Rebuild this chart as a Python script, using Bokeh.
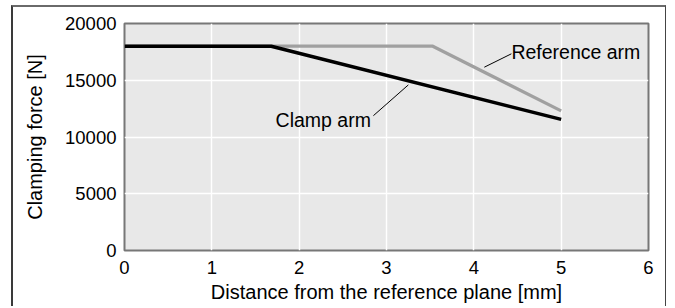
from bokeh.plotting import figure
from bokeh.embed import file_html
from bokeh.resources import INLINE
from bokeh.models import ColumnDataSource, FixedTicker
from bokeh.core.properties import value

# Data
clamp_x = [0, 1.68, 5]
clamp_force = [18000, 18000, 11550]
ref_x = [0, 3.53, 5]
ref_force = [18000, 18000, 12300]

x_ticks = [0, 1, 2, 3, 4, 5, 6]
y_ticks = [0, 5000, 10000, 15000, 20000]

label_names = ["Reference arm", "Clamp arm"]
label_x = [4.43, 1.73]
label_y = [17450, 11500]
leader_x0 = [4.12, 2.85]
leader_y0 = [16150, 11880]
leader_x1 = [4.43, 3.25]
leader_y1 = [17330, 14590]

FONT = "Liberation Sans"

p = figure(width=655, height=301, x_range=(0, 6), y_range=(0, 20000),
           output_backend="svg", toolbar_location=None,
           min_border_left=111, min_border_right=20,
           min_border_top=16, min_border_bottom=58,
           background_fill_color="#e8e8e8", border_fill_color="white",
           outline_line_color="#777777", outline_line_width=2)

p.styles = {"margin-left": "11px",
            "margin-top": "5px",
            "border-left": "2px solid #3a3a3a",
            "border-top": "2px solid #6a6a6a",
            "border-right": "1px solid #444444"}

p.xaxis.ticker = FixedTicker(ticks=x_ticks)
p.yaxis.ticker = FixedTicker(ticks=y_ticks)
for ax in (p.xaxis, p.yaxis):
    ax.axis_line_color = None
    ax.major_tick_line_color = None
    ax.minor_tick_line_color = None
    ax.major_tick_out = 0
    ax.major_tick_in = 0
    ax.major_label_text_font = FONT
    ax.major_label_text_font_size = "18.5px"
    ax.major_label_text_color = "black"
    ax.axis_label_text_font = FONT
    ax.axis_label_text_font_size = "20px"
    ax.axis_label_text_font_style = "normal"
    ax.axis_label_text_color = "black"
    ax.major_label_standoff = 8

p.xaxis.major_label_standoff = 10
p.xaxis.axis_label = "Distance from the reference plane [mm]"
p.yaxis.axis_label = "Clamping force [N]"
p.xaxis.axis_label_standoff = 4
p.yaxis.axis_label_standoff = 16

p.xgrid.grid_line_color = "white"
p.ygrid.grid_line_color = "white"
p.xgrid.grid_line_width = 1.5
p.ygrid.grid_line_width = 1.5

p.line(ref_x, ref_force, line_color="#a0a0a0", line_width=3.2)
p.line(clamp_x, clamp_force, line_color="black", line_width=3.5)

p.segment(x0=leader_x0, y0=leader_y0, x1=leader_x1, y1=leader_y1,
          line_color="black", line_width=1)

src = ColumnDataSource(dict(x=label_x, y=label_y, t=label_names))
p.text(x="x", y="y", text="t", source=src, text_font=value(FONT),
       text_font_size="19.5px", text_baseline="middle", text_align="left",
       text_color="black")

open("out.html", "w").write(file_html(p, INLINE))
